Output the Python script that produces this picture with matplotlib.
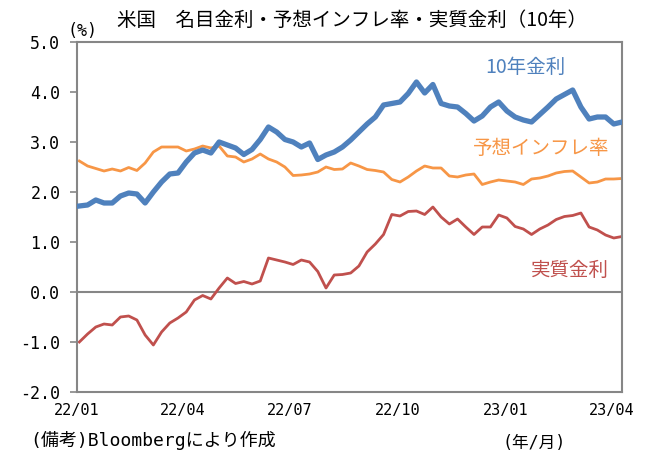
import numpy as np
import pandas as pd
import matplotlib
matplotlib.use("Agg")
import matplotlib.pyplot as plt
import matplotlib.dates as mdates

plt.rcParams['font.family'] = ['Noto Sans CJK JP', 'DejaVu Sans']
MONO = ['DejaVu Sans Mono', 'Noto Sans CJK JP']

# 週次の読み取り値 (2022/01/03 から)
dates = pd.date_range('2022-01-03', periods=67, freq='7D')

nominal = [1.72, 1.74, 1.84, 1.78, 1.78, 1.92, 1.98, 1.96, 1.78, 2.00,
           2.20, 2.36, 2.38, 2.60, 2.78, 2.84, 2.78, 3.00, 2.94, 2.88,
           2.75, 2.85, 3.05, 3.30, 3.20, 3.05, 3.00, 2.90, 2.98, 2.65,
           2.74, 2.80, 2.90, 3.04, 3.20, 3.36, 3.50, 3.74, 3.77, 3.80,
           3.97, 4.20, 3.98, 4.15, 3.77, 3.72, 3.70, 3.57, 3.42, 3.52,
           3.70, 3.80, 3.62, 3.50, 3.44, 3.40, 3.55, 3.70, 3.86, 3.95,
           4.04, 3.70, 3.46, 3.50, 3.50, 3.36, 3.40]

breakeven = [2.62, 2.52, 2.47, 2.42, 2.46, 2.42, 2.49, 2.43, 2.58, 2.80,
             2.90, 2.90, 2.90, 2.82, 2.86, 2.92, 2.88, 2.92, 2.72, 2.70,
             2.60, 2.66, 2.76, 2.66, 2.60, 2.50, 2.33, 2.34, 2.36, 2.40,
             2.50, 2.45, 2.46, 2.58, 2.52, 2.45, 2.43, 2.40, 2.25, 2.20,
             2.30, 2.42, 2.52, 2.48, 2.48, 2.32, 2.30, 2.34, 2.36, 2.15,
             2.20, 2.24, 2.22, 2.20, 2.15, 2.26, 2.28, 2.32, 2.38, 2.41,
             2.42, 2.30, 2.18, 2.20, 2.26, 2.26, 2.27]

real = [-1.00, -0.84, -0.70, -0.64, -0.66, -0.50, -0.48, -0.56, -0.86, -1.06,
        -0.80, -0.62, -0.52, -0.40, -0.16, -0.07, -0.14, 0.08, 0.28, 0.17,
        0.21, 0.16, 0.22, 0.68, 0.64, 0.60, 0.55, 0.64, 0.60, 0.41,
        0.08, 0.34, 0.35, 0.38, 0.52, 0.80, 0.96, 1.15, 1.55, 1.52,
        1.61, 1.62, 1.55, 1.70, 1.50, 1.36, 1.46, 1.30, 1.15, 1.30,
        1.30, 1.54, 1.48, 1.31, 1.26, 1.15, 1.26, 1.34, 1.45, 1.51,
        1.53, 1.58, 1.30, 1.24, 1.14, 1.08, 1.11]

yticks = [-2, -1, 0, 1, 2, 3, 4, 5]
xticks = pd.to_datetime(['2022-01-01', '2022-04-01', '2022-07-01',
                         '2022-10-01', '2023-01-01', '2023-04-01'])

c_nom = '#4F81BD'
c_be = '#F79646'
c_real = '#C0504D'
gray = '#868686'

fig = plt.figure(figsize=(6.52, 4.65), dpi=100)
ax = fig.add_axes([77/652, 73/465, 545/652, 350/465])

ax.axhline(0, color=gray, lw=1.5, zorder=1)
ax.plot(dates, nominal, color=c_nom, lw=3.8, zorder=3)
ax.plot(dates, breakeven, color=c_be, lw=2.0, zorder=2)
ax.plot(dates, real, color=c_real, lw=2.0, zorder=2)

ax.set_ylim(-2, 5)
ax.set_xlim(pd.Timestamp('2022-01-01'), pd.Timestamp('2023-04-10'))
ax.set_yticks(yticks)
ax.set_yticklabels([f'{v:.1f}' for v in yticks], family=MONO, fontsize=12)
ax.set_xticks(xticks)
ax.set_xticklabels([d.strftime('%y/%m') for d in xticks], family=MONO, fontsize=11)

for s in ax.spines.values():
    s.set_color(gray)
    s.set_linewidth(1.5)
ax.tick_params(axis='y', length=5, width=1.2, color=gray, pad=7)
ax.tick_params(axis='x', length=0, pad=8)

fig.text(352/652, 1 - 20/465, '米国　名目金利・予想インフレ率・実質金利（10年）',
         ha='center', va='center', fontsize=14)
fig.text(83/652, 1 - 31/465, '(%)', ha='center', va='center', fontsize=12, family=MONO)
fig.text(30/652, 1 - 440/465, '(備考)Bloombergにより作成', ha='left', va='center',
         fontsize=13, family=MONO)
fig.text(534/652, 1 - 443/465, '(年/月)', ha='center', va='center', fontsize=12, family=MONO)

fig.text(525/652, 1 - 67/465, '10年金利', color=c_nom, ha='center', va='center', fontsize=14)
fig.text(541/652, 1 - 148/465, '予想インフレ率', color=c_be, ha='center', va='center', fontsize=14)
fig.text(570/652, 1 - 270/465, '実質金利', color=c_real, ha='center', va='center', fontsize=14)

fig.savefig('out.png', dpi=100)
